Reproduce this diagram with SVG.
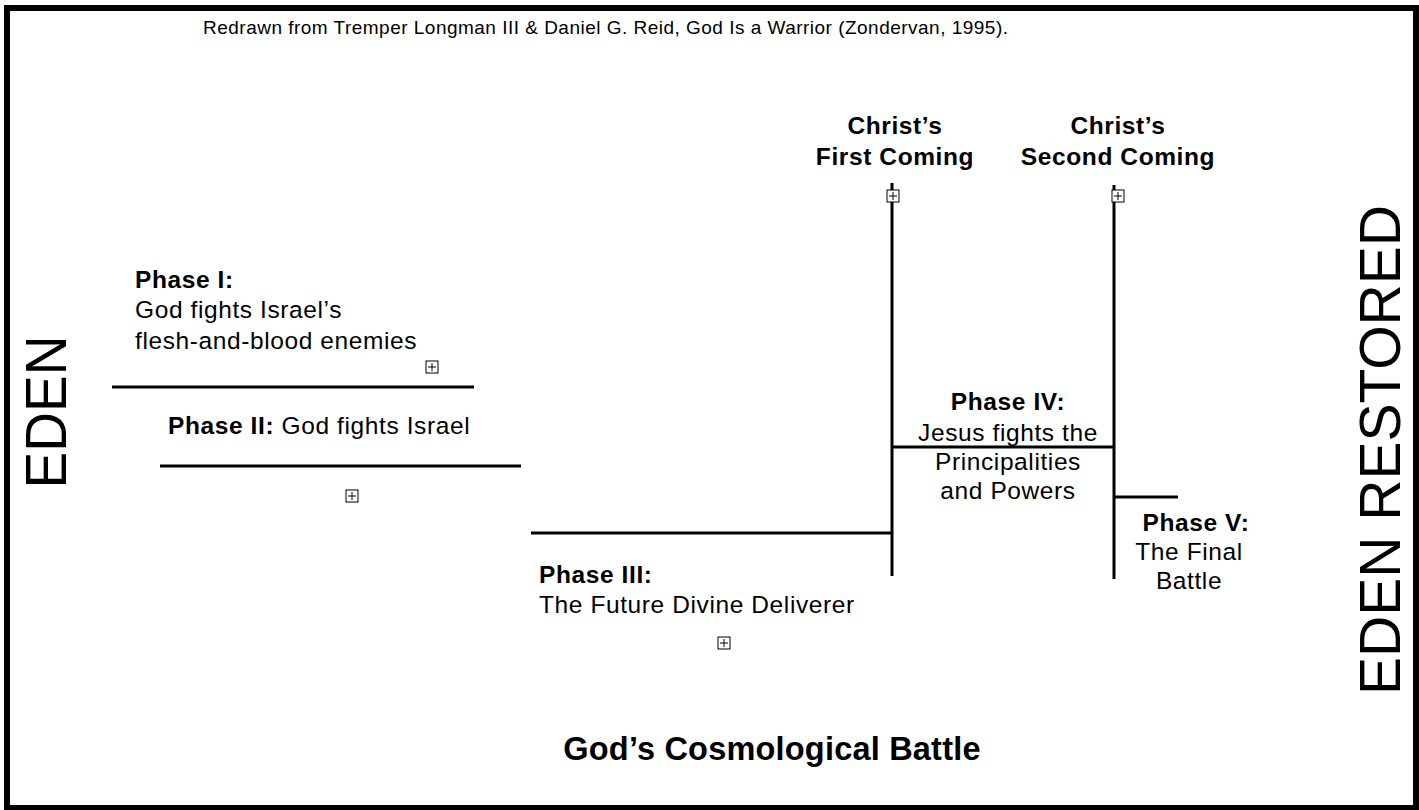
<svg xmlns="http://www.w3.org/2000/svg" width="1419" height="810" viewBox="0 0 1419 810">
<style>
text{font-family:"Liberation Sans",Arial,sans-serif;fill:#000}
.b{font-weight:bold}
.t{font-size:24.5px;letter-spacing:0.6px}
.big{font-size:58px}
.ln{stroke:#000;stroke-width:3;fill:none}
</style>
<defs>
<g id="ic"><rect x="-6" y="-6" width="12" height="12" fill="#fff" stroke="#000" stroke-width="1"/><path d="M-4 0H4M0 -4V4" stroke="#000" stroke-width="1"/></g>
</defs>
<rect x="0" y="0" width="1419" height="810" fill="#fff"/>
<rect x="7" y="8" width="1409" height="800" fill="none" stroke="#000" stroke-width="6"/>
<text x="203" y="34" font-size="19" textLength="805">Redrawn from Tremper Longman III &amp; Daniel G. Reid, God Is a Warrior (Zondervan, 1995).</text>
<g id="eden"><text class="big" transform="translate(66,412) rotate(-90)" text-anchor="middle" textLength="153" lengthAdjust="spacingAndGlyphs">EDEN</text></g>
<g id="eden-restored"><text class="big" transform="translate(1400,450) rotate(-90)" text-anchor="middle" textLength="490" lengthAdjust="spacingAndGlyphs">EDEN RESTORED</text></g>
<g id="connectors">
<line class="ln" x1="112" y1="387" x2="474" y2="387"/>
<line class="ln" x1="160" y1="466" x2="521" y2="466"/>
<line class="ln" x1="531" y1="533" x2="892" y2="533"/>
<line class="ln" x1="892" y1="183" x2="892" y2="576"/>
<line class="ln" x1="1114" y1="185" x2="1114" y2="579"/>
<line class="ln" x1="892" y1="447" x2="1114" y2="447"/>
<line class="ln" x1="1114" y1="497" x2="1178" y2="497"/>
</g>
<g id="phase1">
<text class="t b" x="135" y="288">Phase I:</text>
<text class="t" x="135" y="318">God fights Israel’s</text>
<text class="t" x="135" y="349">flesh-and-blood enemies</text>
<use href="#ic" x="432" y="367"/>
</g>
<g id="phase2">
<text class="t" x="168" y="434"><tspan class="b">Phase II:</tspan> God fights Israel</text>
<use href="#ic" x="352" y="496"/>
</g>
<g id="phase3">
<text class="t b" x="539" y="583">Phase III:</text>
<text class="t" x="539" y="613">The Future Divine Deliverer</text>
<use href="#ic" x="724" y="643"/>
</g>
<g id="first-coming">
<text class="t b" x="895" y="134" text-anchor="middle">Christ’s</text>
<text class="t b" x="895" y="165" text-anchor="middle">First Coming</text>
<use href="#ic" x="893" y="196"/>
</g>
<g id="second-coming">
<text class="t b" x="1118" y="134" text-anchor="middle">Christ’s</text>
<text class="t b" x="1118" y="165" text-anchor="middle">Second Coming</text>
<use href="#ic" x="1118" y="196"/>
</g>
<g id="phase4">
<text class="t b" x="1008" y="410" text-anchor="middle">Phase IV:</text>
<text class="t" x="1008" y="441" text-anchor="middle">Jesus fights the</text>
<text class="t" x="1008" y="470" text-anchor="middle">Principalities</text>
<text class="t" x="1008" y="499" text-anchor="middle">and Powers</text>
</g>
<g id="phase5">
<text class="t b" x="1196" y="531" text-anchor="middle">Phase V:</text>
<text class="t" x="1189" y="560" text-anchor="middle">The Final</text>
<text class="t" x="1189" y="589" text-anchor="middle">Battle</text>
</g>
<g id="title"><text class="b" x="772" y="760" font-size="32.5" letter-spacing="0.2" text-anchor="middle">God’s Cosmological Battle</text></g>
</svg>
